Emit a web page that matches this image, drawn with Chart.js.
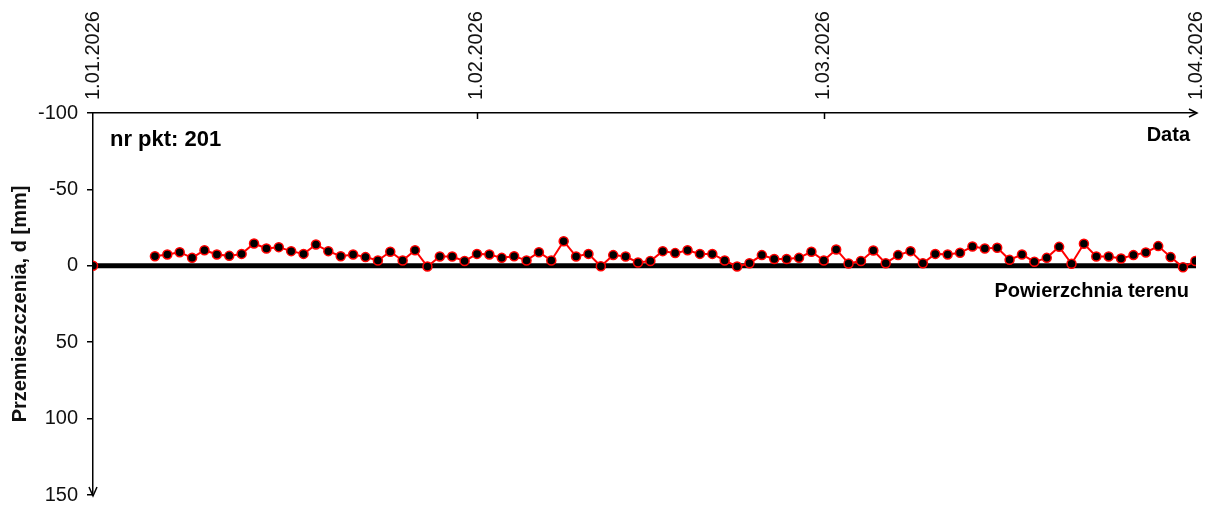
<!DOCTYPE html>
<html>
<head>
<meta charset="utf-8">
<script src="https://cdn.jsdelivr.net/npm/chart.js@4.4.1/dist/chart.umd.min.js"></script>
<style>
  html, body { margin: 0; padding: 0; background: #ffffff; }
  #wrap { width: 1220px; height: 507px; position: relative; }
</style>
</head>
<body>
<div id="wrap"><canvas id="chart"></canvas></div>
<script>
// Monitoring point and readings (displacement d in mm, negative = uplift)
const pointName = 'nr pkt: 201';
const zeroDate = '2026-01-01';
const zeroValue = 0;

const measureDates = [
  '2026-01-06','2026-01-07','2026-01-08','2026-01-09','2026-01-10','2026-01-11','2026-01-12','2026-01-13',
  '2026-01-14','2026-01-15','2026-01-16','2026-01-17','2026-01-18','2026-01-19','2026-01-20','2026-01-21',
  '2026-01-22','2026-01-23','2026-01-24','2026-01-25','2026-01-26','2026-01-27','2026-01-28','2026-01-29',
  '2026-01-30','2026-01-31',
  '2026-02-01','2026-02-02','2026-02-03','2026-02-04','2026-02-05','2026-02-06','2026-02-07','2026-02-08',
  '2026-02-09','2026-02-10','2026-02-11','2026-02-12','2026-02-13','2026-02-14','2026-02-15','2026-02-16',
  '2026-02-17','2026-02-18','2026-02-19','2026-02-20','2026-02-21','2026-02-22','2026-02-23','2026-02-24',
  '2026-02-25','2026-02-26','2026-02-27','2026-02-28',
  '2026-03-01','2026-03-02','2026-03-03','2026-03-04','2026-03-05','2026-03-06','2026-03-07','2026-03-08',
  '2026-03-09','2026-03-10','2026-03-11','2026-03-12','2026-03-13','2026-03-14','2026-03-15','2026-03-16',
  '2026-03-17','2026-03-18','2026-03-19','2026-03-20','2026-03-21','2026-03-22','2026-03-23','2026-03-24',
  '2026-03-25','2026-03-26','2026-03-27','2026-03-28','2026-03-29','2026-03-30','2026-03-31'
];

const displacement = [
  -6.3, -7.4, -8.9, -5.2, -10.2, -7.4, -6.5, -7.8,
  -14.6, -11.3, -12.2, -9.6, -7.8, -13.9, -9.6, -6.3,
  -7.4, -5.7, -3.5, -9.2, -3.5, -10.2, 0.5, -6.1,
  -6.1, -3.1,
  -7.8, -7.4, -5.2, -6.3, -3.5, -8.9, -3.5, -16.1,
  -6.1, -7.8, 0.3, -7.0, -6.1, -2.2, -3.1, -9.6,
  -8.3, -10.2, -7.8, -7.8, -3.5, 0.5, -1.7, -7.0,
  -4.4, -4.4, -5.2, -9.2,
  -3.5, -10.7, -1.5, -3.1, -10.0, -1.7, -7.0, -9.6,
  -1.7, -7.8, -7.4, -8.5, -12.6, -11.3, -11.8, -3.9,
  -7.4, -2.6, -5.2, -12.4, -1.3, -14.4, -6.1, -6.1,
  -4.8, -7.0, -8.7, -12.9, -5.7, 1.0, -3.1
];

const tickDates  = ['2026-01-01', '2026-02-01', '2026-03-01', '2026-04-01'];
const tickLabels = ['1.01.2026', '1.02.2026', '1.03.2026', '1.04.2026'];
const yTickValues = [-100, -50, 0, 50, 100, 150];

const groundLabel = 'Powierzchnia terenu';
const xAxisName = 'Data';
const yAxisName = 'Przemieszczenia, d [mm]';

// ---- helpers ----
const DAY = 86400000;
const dayOf = d => (Date.parse(d + 'T00:00:00Z') - Date.parse(zeroDate + 'T00:00:00Z')) / DAY;
const axisEndDay = 89.05;   // the time axis closes at the last reading

const seriesPoints = measureDates.map((d, i) => ({ x: dayOf(d), y: displacement[i] }));
const FONT = "'Liberation Sans', Arial, Helvetica, sans-serif";
Chart.defaults.font.family = FONT;

const overlay = {
  id: 'overlay',
  afterDraw(chart) {
    const { ctx, chartArea: a, scales: { x, y } } = chart;
    ctx.save();
    ctx.strokeStyle = '#000';
    ctx.fillStyle = '#000';
    ctx.lineWidth = 1.5;

    // inward tick marks on the date axis
    x.ticks.forEach((t, i) => {
      if (i === 0 || i === x.ticks.length - 1) return;
      const px = Math.round(x.getPixelForValue(t.value)) + 0.5;
      ctx.beginPath();
      ctx.moveTo(px, a.top);
      ctx.lineTo(px, a.top + 6);
      ctx.stroke();
    });

    // arrow heads
    ctx.lineWidth = 1.5;
    ctx.beginPath();
    ctx.moveTo(a.right - 7, a.top - 4);
    ctx.lineTo(a.right + 1, a.top);
    ctx.lineTo(a.right - 7, a.top + 4);
    ctx.stroke();
    ctx.beginPath();
    ctx.moveTo(a.left - 4, a.bottom - 8);
    ctx.lineTo(a.left, a.bottom + 1);
    ctx.lineTo(a.left + 4, a.bottom - 8);
    ctx.stroke();

    // texts inside the plot
    ctx.textBaseline = 'alphabetic';
    ctx.font = 'bold 22px ' + FONT;
    ctx.textAlign = 'left';
    ctx.fillText(pointName, a.left + 17, a.top + 33);
    ctx.font = 'bold 20px ' + FONT;
    ctx.textAlign = 'right';
    ctx.fillText(xAxisName, a.right - 6, a.top + 28);
    ctx.fillText(groundLabel, a.right - 7, y.getPixelForValue(0) + 31);
    ctx.restore();
  }
};

const markerStyle = {
  borderColor: '#ff0000',
  borderWidth: 2,
  pointRadius: 4.5,
  pointHoverRadius: 4.5,
  pointBackgroundColor: '#000000',
  pointBorderColor: '#ff0000',
  pointBorderWidth: 1.5,
  tension: 0
};

new Chart(document.getElementById('chart'), {
  type: 'line',
  data: {
    datasets: [
      Object.assign({ label: 'pomiary', data: seriesPoints, order: 1 }, markerStyle),
      Object.assign({ label: 'pomiar zerowy', data: [{ x: dayOf(zeroDate), y: zeroValue }], showLine: false, order: 2 }, markerStyle),
      {
        label: groundLabel,
        data: [{ x: 0, y: 0 }, { x: axisEndDay, y: 0 }],
        borderColor: '#000000',
        borderWidth: 5,
        pointRadius: 0,
        order: 3
      }
    ]
  },
  options: {
    responsive: true,
    maintainAspectRatio: false,
    animation: false,
    events: [],
    layout: { padding: { left: 0, top: 0, right: 24, bottom: 12 } },
    plugins: { legend: { display: false }, tooltip: { enabled: false } },
    scales: {
      x: {
        type: 'linear',
        position: 'top',
        min: 0,
        max: axisEndDay,
        afterBuildTicks(scale) {
          scale.ticks = tickDates.map(d => ({ value: Math.min(dayOf(d), scale.max) }));
        },
        afterFit(scale) {
          scale.height = 113;
          scale.paddingLeft = 0;
          scale.paddingRight = 0;
        },
        ticks: {
          autoSkip: false,
          minRotation: 90,
          maxRotation: 90,
          padding: 13,
          labelOffset: 24,
          color: '#111111',
          font: { size: 20 },
          callback: (v, i) => tickLabels[i]
        },
        grid: { display: true, drawOnChartArea: false, drawTicks: false },
        border: { display: true, color: '#000000', width: 1.5 }
      },
      y: {
        type: 'linear',
        position: 'left',
        reverse: true,
        min: -100,
        max: 150,
        afterBuildTicks(scale) {
          scale.ticks = yTickValues.map(v => ({ value: v }));
        },
        afterFit(scale) {
          scale.width = 93;
          scale.paddingTop = 0;
          scale.paddingBottom = 0;
        },
        ticks: {
          padding: 9,
          color: '#111111',
          font: { size: 20 }
        },
        grid: { display: true, drawOnChartArea: false, drawTicks: true, tickLength: 6, color: '#000000', lineWidth: 1.5 },
        border: { display: true, color: '#000000', width: 1.5 },
        title: {
          display: true,
          text: yAxisName,
          color: '#111111',
          font: { size: 20, weight: 'bold' },
          padding: { top: 8, bottom: 4 }
        }
      }
    }
  },
  plugins: [overlay]
});
</script>
</body>
</html>
